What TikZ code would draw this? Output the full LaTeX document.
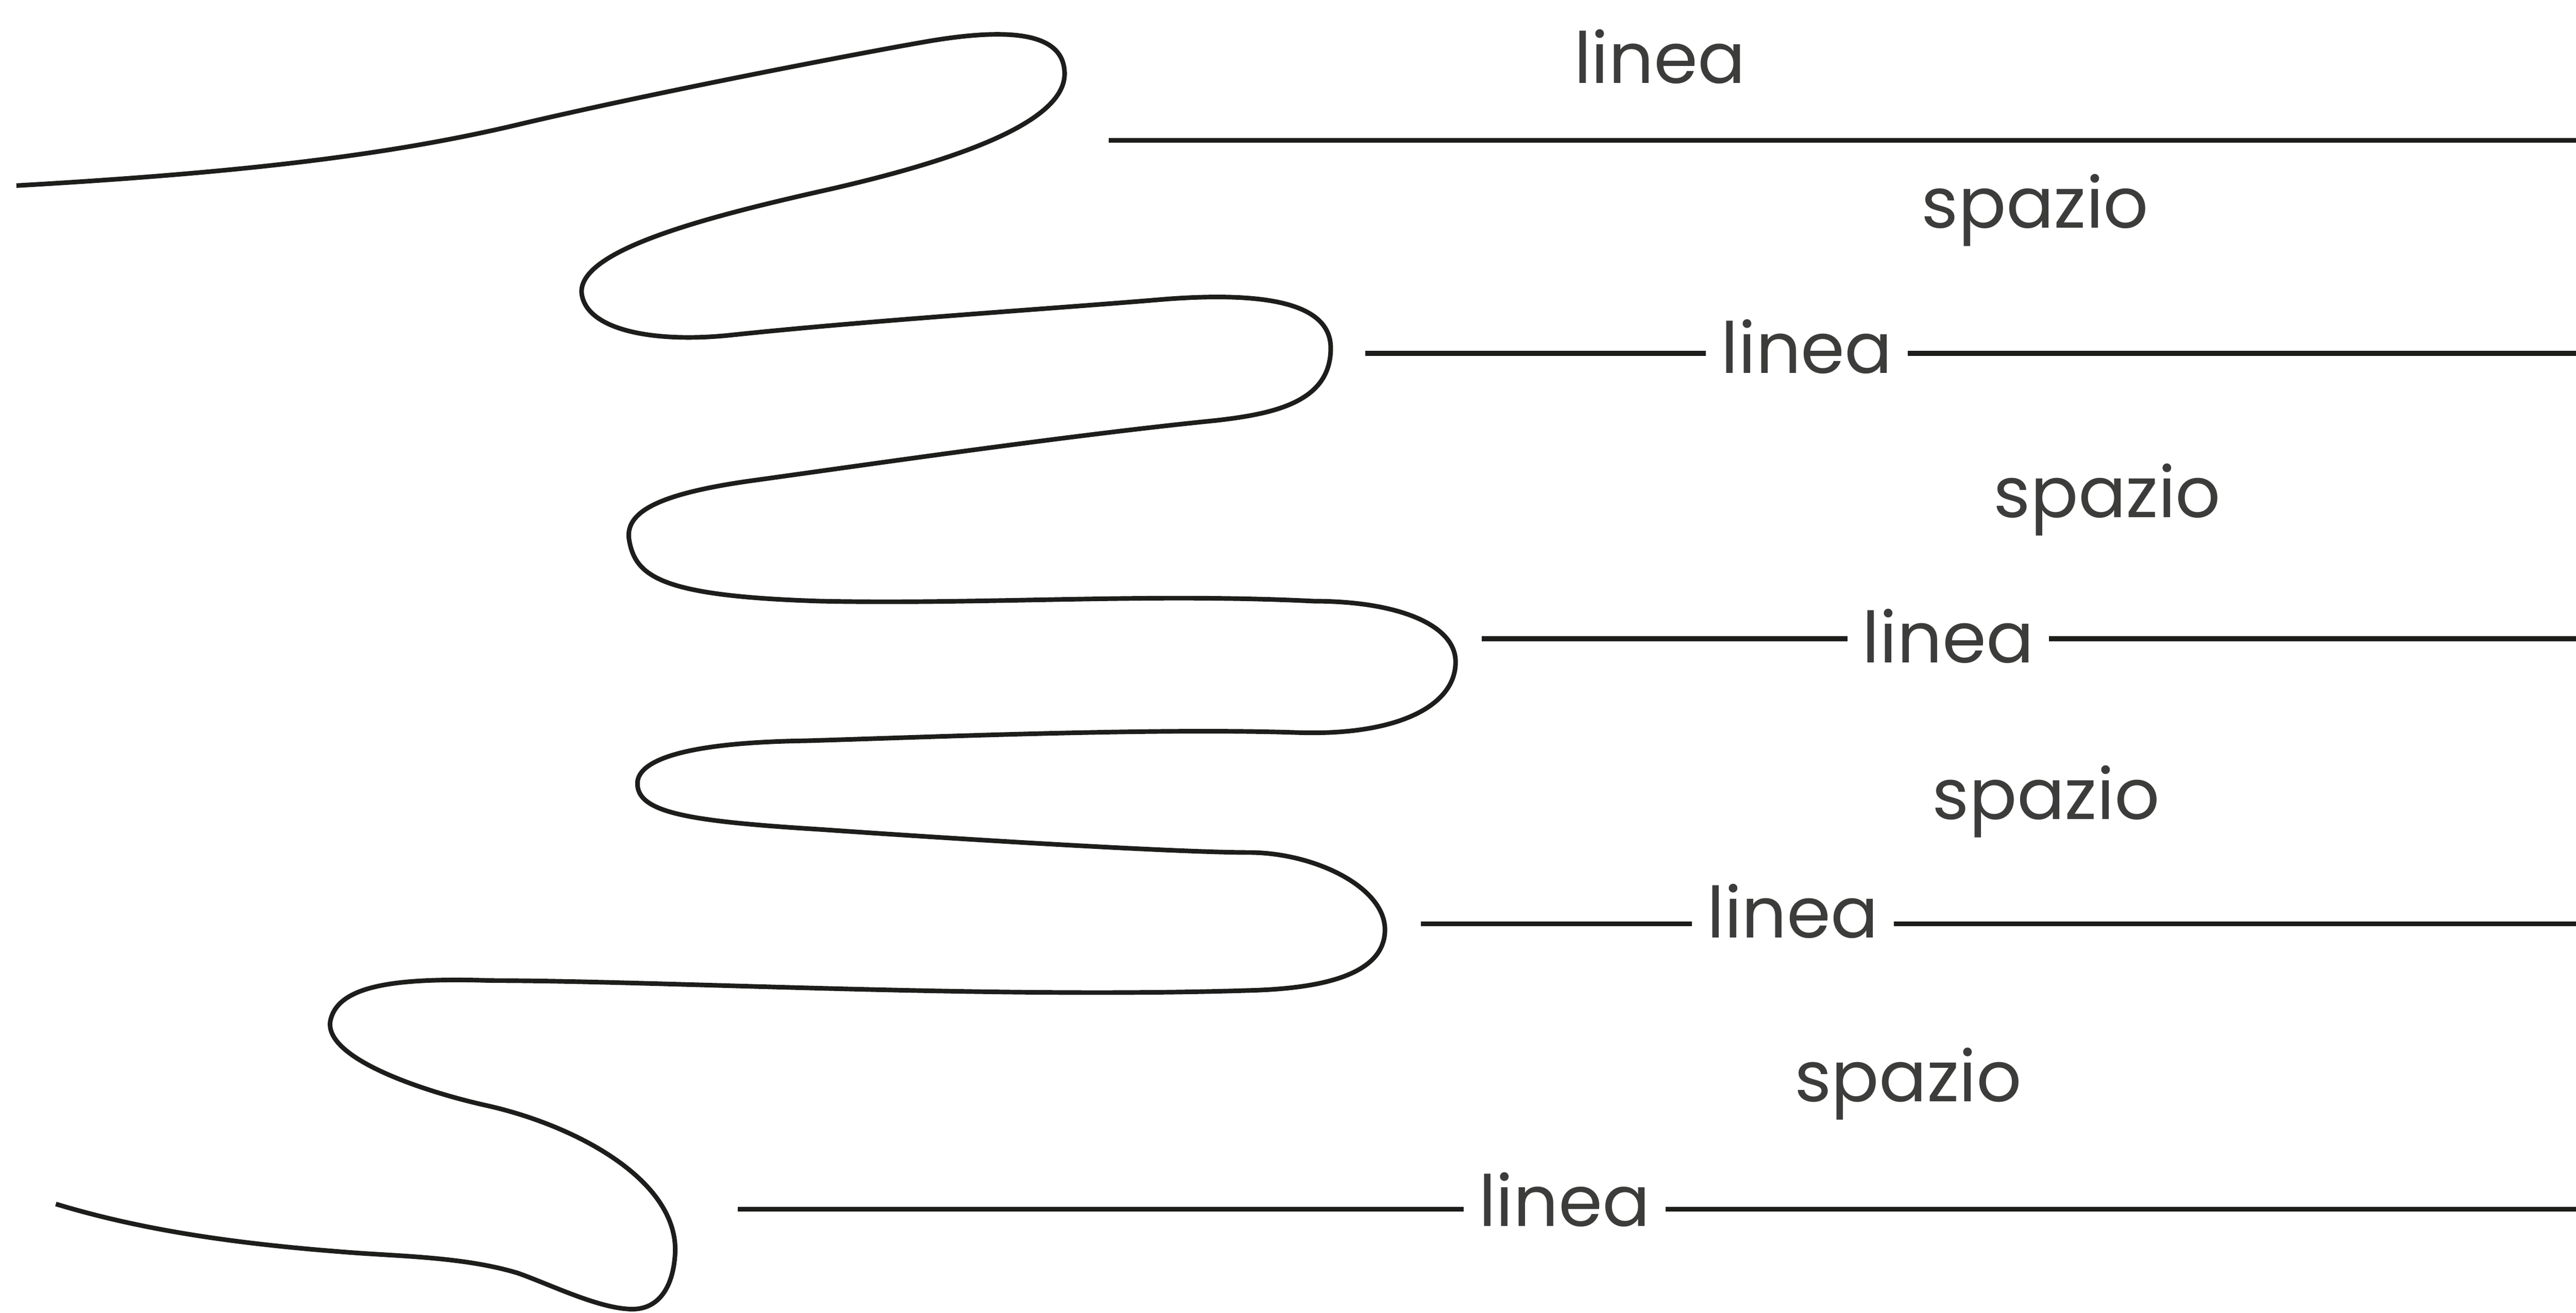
\documentclass[tikz,border=0pt]{standalone}
\usepackage{fontspec}
\setmainfont{Poppins}
\definecolor{ink}{HTML}{1D1D1B}
\definecolor{txt}{HTML}{3C3C3B}

\begin{document}
\begin{tikzpicture}[x=1pt,y=-1pt]
	\tikzstyle{word} = [
		text=txt,
		font=\fontsize{43}{50}\selectfont,
		inner xsep=9pt,
		inner ysep=0pt,
		anchor=base
	]
	\tikzstyle{rule} = [draw=ink, line width=3pt]
	\tikzstyle{wave} = [draw=ink, line width=2.8pt, line join=round]

	\useasboundingbox (0,0) rectangle (1568,799.2);

	\node (linea1) [style=word] at (1010.3,50.7) {linea};
	\node (linea2) [style=word] at (1099.8,227.3) {linea};
	\node (linea3) [style=word] at (1185.8,403.6) {linea};
	\node (linea4) [style=word] at (1091.3,570.9) {linea};
	\node (linea5) [style=word] at (952.3,746.5) {linea};

	\node (spazio1) [style=word] at (1238.8,138.9) {spazio};
	\node (spazio2) [style=word] at (1282.7,315.1) {spazio};
	\node (spazio3) [style=word] at (1245.4,498.9) {spazio};
	\node (spazio4) [style=word] at (1161.4,670.6) {spazio};

	\coordinate (r1a) at (675,85.5);
	\coordinate (r1b) at (1568,85.5);
	\coordinate (r2a) at (831,215.2);
	\coordinate (r2b) at (1568,215.2);
	\coordinate (r3a) at (902,388.8);
	\coordinate (r3b) at (1568,388.8);
	\coordinate (r4a) at (865,562.4);
	\coordinate (r4b) at (1568,562.4);
	\coordinate (r5a) at (449,736.2);
	\coordinate (r5b) at (1568,736.2);

	\draw [style=rule] (r1a) -- (r1b);
	\draw [style=rule] (r2a) -- (r2a -| linea2.west);
	\draw [style=rule] (r2a -| linea2.east) -- (r2b);
	\draw [style=rule] (r3a) -- (r3a -| linea3.west);
	\draw [style=rule] (r3a -| linea3.east) -- (r3b);
	\draw [style=rule] (r4a) -- (r4a -| linea4.west);
	\draw [style=rule] (r4a -| linea4.east) -- (r4b);
	\draw [style=rule] (r5a) -- (r5a -| linea5.west);
	\draw [style=rule] (r5a -| linea5.east) -- (r5b);

	\draw [style=wave] (10,113) .. controls (150,105) and (240,94) .. (319,75)
		.. controls (400,56) and (520,33) .. (560,26)
		.. controls (610,17) and (648,18) .. (648,45)
		.. controls (648,75) and (580,98) .. (506,115)
		.. controls (430,132) and (353,152) .. (354,178)
		.. controls (356,201) and (398,209) .. (445,204)
		.. controls (530,195) and (640,188) .. (711,182)
		.. controls (780,177) and (810,188) .. (810,212)
		.. controls (810,245) and (775,252) .. (740,256)
		.. controls (650,265) and (520,284) .. (455,293)
		.. controls (400,301) and (380,312) .. (383,329)
		.. controls (387,351) and (402,363) .. (500,366)
		.. controls (600,368) and (700,361) .. (800,366)
		.. controls (850,366) and (886,380) .. (886,403)
		.. controls (886,430) and (850,448) .. (790,446)
		.. controls (700,443) and (560,449) .. (490,451)
		.. controls (420,452) and (388,462) .. (388,477)
		.. controls (388,495) and (420,500) .. (500,505)
		.. controls (600,512) and (720,519) .. (760,519)
		.. controls (800,519) and (843,540) .. (843,566)
		.. controls (843,595) and (800,602) .. (760,603)
		.. controls (600,608) and (400,597) .. (300,597)
		.. controls (240,595) and (205,600) .. (201,622)
		.. controls (198,645) and (260,665) .. (296,673)
		.. controls (350,685) and (412,718) .. (411,762)
		.. controls (410,785) and (400,797) .. (385,797)
		.. controls (365,797) and (335,782) .. (315,775)
		.. controls (285,766) and (250,765) .. (220,763)
		.. controls (150,758) and (90,750) .. (34,733);
\end{tikzpicture}
\end{document}
